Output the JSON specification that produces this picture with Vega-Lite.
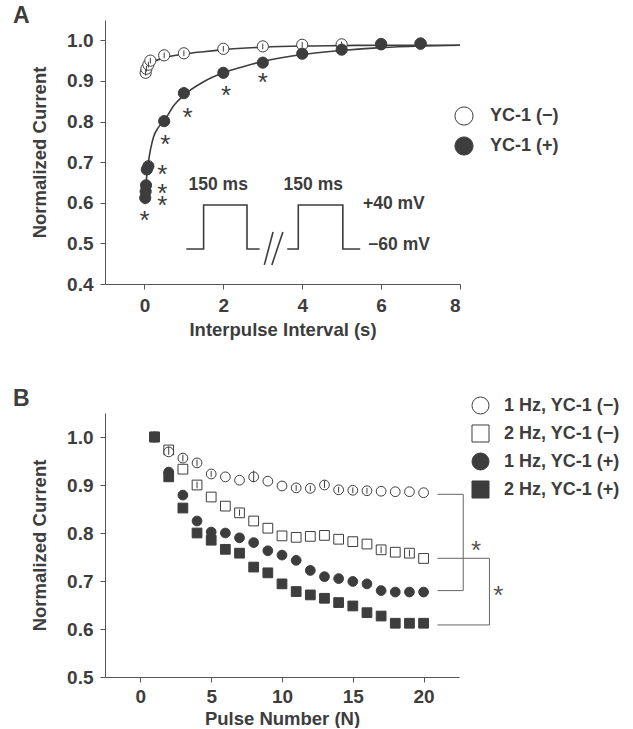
{
  "$schema": "https://vega.github.io/schema/vega-lite/v6.json",
  "background": "white",
  "padding": {"left": 13, "top": 5, "right": 5, "bottom": 0},
  "config": {
    "view": {"stroke": null},
    "font": "Liberation Sans",
    "axis": {
      "labelFont": "Liberation Sans", "labelFontWeight": "bold", "labelFontSize": 19, "labelColor": "#3d3d3d",
      "titleFont": "Liberation Sans", "titleFontWeight": "bold", "titleFontSize": 18.5, "titleColor": "#3d3d3d",
      "domainColor": "#555555", "tickColor": "#555555", "tickSize": 5, "grid": false, "labelPadding": 7
    },
    "title": {"font": "Liberation Sans", "fontWeight": "bold", "fontSize": 23, "color": "#3d3d3d", "anchor": "start", "frame": "group"},
    "legend": {"labelFont": "Liberation Sans", "labelFontWeight": "bold", "labelFontSize": 18, "labelColor": "#3d3d3d", "symbolOpacity": 1, "symbolStrokeColor": "#3d3d3d", "symbolStrokeWidth": 1, "padding": 0}
  },
  "resolve": {
    "scale": {"x": "independent", "y": "independent", "fill": "independent", "shape": "independent"},
    "legend": {"fill": "independent", "shape": "independent"}
  },
  "datasets": {
    "ptsA": [
      {"series": "YC-1 (−)", "x": 0.03, "y": 0.92},
      {"series": "YC-1 (−)", "x": 0.05, "y": 0.93},
      {"series": "YC-1 (−)", "x": 0.1, "y": 0.94},
      {"series": "YC-1 (−)", "x": 0.15, "y": 0.95},
      {"series": "YC-1 (−)", "x": 0.5, "y": 0.963},
      {"series": "YC-1 (−)", "x": 1, "y": 0.968},
      {"series": "YC-1 (−)", "x": 2, "y": 0.979},
      {"series": "YC-1 (−)", "x": 3, "y": 0.985},
      {"series": "YC-1 (−)", "x": 4, "y": 0.989},
      {"series": "YC-1 (−)", "x": 5, "y": 0.99},
      {"series": "YC-1 (−)", "x": 6, "y": 0.991},
      {"series": "YC-1 (−)", "x": 7, "y": 0.992},
      {"series": "YC-1 (+)", "x": 0.02, "y": 0.612},
      {"series": "YC-1 (+)", "x": 0.03, "y": 0.628},
      {"series": "YC-1 (+)", "x": 0.04, "y": 0.643},
      {"series": "YC-1 (+)", "x": 0.06, "y": 0.682},
      {"series": "YC-1 (+)", "x": 0.1, "y": 0.69},
      {"series": "YC-1 (+)", "x": 0.5, "y": 0.801},
      {"series": "YC-1 (+)", "x": 1, "y": 0.87},
      {"series": "YC-1 (+)", "x": 2, "y": 0.92},
      {"series": "YC-1 (+)", "x": 3, "y": 0.945},
      {"series": "YC-1 (+)", "x": 4, "y": 0.967},
      {"series": "YC-1 (+)", "x": 5, "y": 0.977},
      {"series": "YC-1 (+)", "x": 6, "y": 0.99},
      {"series": "YC-1 (+)", "x": 7, "y": 0.992}
    ],
    "errA": [
      {"x": 0.03, "lo": 0.913, "hi": 0.927},
      {"x": 0.05, "lo": 0.923, "hi": 0.937},
      {"x": 0.1, "lo": 0.933, "hi": 0.947},
      {"x": 0.15, "lo": 0.943, "hi": 0.957},
      {"x": 0.5, "lo": 0.956, "hi": 0.97},
      {"x": 1, "lo": 0.961, "hi": 0.975},
      {"x": 2, "lo": 0.972, "hi": 0.986},
      {"x": 3, "lo": 0.978, "hi": 0.992},
      {"x": 4, "lo": 0.982, "hi": 0.996},
      {"x": 5, "lo": 0.983, "hi": 0.997},
      {"x": 0.02, "lo": 0.596, "hi": 0.612}
    ],
    "fitA": [
      {"series": "minus", "x": 0.02, "y": 0.93},
      {"series": "minus", "x": 0.25, "y": 0.948},
      {"series": "minus", "x": 0.5, "y": 0.957},
      {"series": "minus", "x": 1, "y": 0.966},
      {"series": "minus", "x": 1.5, "y": 0.972},
      {"series": "minus", "x": 2, "y": 0.977},
      {"series": "minus", "x": 3, "y": 0.983},
      {"series": "minus", "x": 4, "y": 0.986},
      {"series": "minus", "x": 5, "y": 0.987},
      {"series": "minus", "x": 6, "y": 0.988},
      {"series": "minus", "x": 8, "y": 0.988},
      {"series": "plus", "x": 0.03, "y": 0.62},
      {"series": "plus", "x": 0.06, "y": 0.67},
      {"series": "plus", "x": 0.1, "y": 0.70},
      {"series": "plus", "x": 0.23, "y": 0.762},
      {"series": "plus", "x": 0.35, "y": 0.785},
      {"series": "plus", "x": 0.5, "y": 0.802},
      {"series": "plus", "x": 0.75, "y": 0.84},
      {"series": "plus", "x": 1, "y": 0.865},
      {"series": "plus", "x": 1.5, "y": 0.898},
      {"series": "plus", "x": 2, "y": 0.92},
      {"series": "plus", "x": 2.5, "y": 0.935},
      {"series": "plus", "x": 3, "y": 0.948},
      {"series": "plus", "x": 4, "y": 0.965},
      {"series": "plus", "x": 5, "y": 0.975},
      {"series": "plus", "x": 6, "y": 0.982},
      {"series": "plus", "x": 7, "y": 0.986},
      {"series": "plus", "x": 8, "y": 0.988}
    ],
    "pulseA": [
      {"seg": "p1", "i": 1, "x": 1.06, "y": 0.486},
      {"seg": "p1", "i": 2, "x": 1.5, "y": 0.486},
      {"seg": "p1", "i": 3, "x": 1.5, "y": 0.5945},
      {"seg": "p1", "i": 4, "x": 2.6, "y": 0.5945},
      {"seg": "p1", "i": 5, "x": 2.6, "y": 0.486},
      {"seg": "p1", "i": 6, "x": 2.92, "y": 0.486},
      {"seg": "p2", "i": 1, "x": 3.62, "y": 0.486},
      {"seg": "p2", "i": 2, "x": 3.9, "y": 0.486},
      {"seg": "p2", "i": 3, "x": 3.9, "y": 0.5945},
      {"seg": "p2", "i": 4, "x": 5.03, "y": 0.5945},
      {"seg": "p2", "i": 5, "x": 5.03, "y": 0.486},
      {"seg": "p2", "i": 6, "x": 5.47, "y": 0.486},
      {"seg": "s1", "i": 1, "x": 3.04, "y": 0.447},
      {"seg": "s1", "i": 2, "x": 3.26, "y": 0.528},
      {"seg": "s2", "i": 1, "x": 3.23, "y": 0.447},
      {"seg": "s2", "i": 2, "x": 3.51, "y": 0.528}
    ],
    "starsA": [
      {"x": 0.0, "y": 0.57},
      {"x": 0.45, "y": 0.683},
      {"x": 0.45, "y": 0.636},
      {"x": 0.45, "y": 0.607},
      {"x": 0.53, "y": 0.757},
      {"x": 1.09, "y": 0.823},
      {"x": 2.07, "y": 0.877},
      {"x": 3.0, "y": 0.91}
    ],
    "msA": [
      {"label": "150 ms", "x": 1.87, "y": 0.644},
      {"label": "150 ms", "x": 4.28, "y": 0.644}
    ],
    "mvA": [
      {"label": "+40 mV", "x": 5.54, "y": 0.597},
      {"label": "−60 mV", "x": 5.67, "y": 0.496}
    ],
    "ptsB": [
      {"series": "2 Hz, YC-1 (−)", "n": 1, "y": 1.0},
      {"series": "2 Hz, YC-1 (−)", "n": 2, "y": 0.973},
      {"series": "2 Hz, YC-1 (−)", "n": 3, "y": 0.933},
      {"series": "2 Hz, YC-1 (−)", "n": 4, "y": 0.9},
      {"series": "2 Hz, YC-1 (−)", "n": 5, "y": 0.875},
      {"series": "2 Hz, YC-1 (−)", "n": 6, "y": 0.856},
      {"series": "2 Hz, YC-1 (−)", "n": 7, "y": 0.842},
      {"series": "2 Hz, YC-1 (−)", "n": 8, "y": 0.825},
      {"series": "2 Hz, YC-1 (−)", "n": 9, "y": 0.81},
      {"series": "2 Hz, YC-1 (−)", "n": 10, "y": 0.794},
      {"series": "2 Hz, YC-1 (−)", "n": 11, "y": 0.791},
      {"series": "2 Hz, YC-1 (−)", "n": 12, "y": 0.793},
      {"series": "2 Hz, YC-1 (−)", "n": 13, "y": 0.795},
      {"series": "2 Hz, YC-1 (−)", "n": 14, "y": 0.787},
      {"series": "2 Hz, YC-1 (−)", "n": 15, "y": 0.782},
      {"series": "2 Hz, YC-1 (−)", "n": 16, "y": 0.777},
      {"series": "2 Hz, YC-1 (−)", "n": 17, "y": 0.765},
      {"series": "2 Hz, YC-1 (−)", "n": 18, "y": 0.76},
      {"series": "2 Hz, YC-1 (−)", "n": 19, "y": 0.758},
      {"series": "2 Hz, YC-1 (−)", "n": 20, "y": 0.747},
      {"series": "1 Hz, YC-1 (−)", "n": 1, "y": 1.0},
      {"series": "1 Hz, YC-1 (−)", "n": 2, "y": 0.969},
      {"series": "1 Hz, YC-1 (−)", "n": 3, "y": 0.956},
      {"series": "1 Hz, YC-1 (−)", "n": 4, "y": 0.946},
      {"series": "1 Hz, YC-1 (−)", "n": 5, "y": 0.923},
      {"series": "1 Hz, YC-1 (−)", "n": 6, "y": 0.917},
      {"series": "1 Hz, YC-1 (−)", "n": 7, "y": 0.91},
      {"series": "1 Hz, YC-1 (−)", "n": 8, "y": 0.917},
      {"series": "1 Hz, YC-1 (−)", "n": 9, "y": 0.908},
      {"series": "1 Hz, YC-1 (−)", "n": 10, "y": 0.898},
      {"series": "1 Hz, YC-1 (−)", "n": 11, "y": 0.894},
      {"series": "1 Hz, YC-1 (−)", "n": 12, "y": 0.893},
      {"series": "1 Hz, YC-1 (−)", "n": 13, "y": 0.9},
      {"series": "1 Hz, YC-1 (−)", "n": 14, "y": 0.89},
      {"series": "1 Hz, YC-1 (−)", "n": 15, "y": 0.889},
      {"series": "1 Hz, YC-1 (−)", "n": 16, "y": 0.888},
      {"series": "1 Hz, YC-1 (−)", "n": 17, "y": 0.887},
      {"series": "1 Hz, YC-1 (−)", "n": 18, "y": 0.886},
      {"series": "1 Hz, YC-1 (−)", "n": 19, "y": 0.886},
      {"series": "1 Hz, YC-1 (−)", "n": 20, "y": 0.884},
      {"series": "2 Hz, YC-1 (+)", "n": 1, "y": 1.0},
      {"series": "2 Hz, YC-1 (+)", "n": 2, "y": 0.917},
      {"series": "2 Hz, YC-1 (+)", "n": 3, "y": 0.852},
      {"series": "2 Hz, YC-1 (+)", "n": 4, "y": 0.8},
      {"series": "2 Hz, YC-1 (+)", "n": 5, "y": 0.785},
      {"series": "2 Hz, YC-1 (+)", "n": 6, "y": 0.766},
      {"series": "2 Hz, YC-1 (+)", "n": 7, "y": 0.758},
      {"series": "2 Hz, YC-1 (+)", "n": 8, "y": 0.729},
      {"series": "2 Hz, YC-1 (+)", "n": 9, "y": 0.717},
      {"series": "2 Hz, YC-1 (+)", "n": 10, "y": 0.694},
      {"series": "2 Hz, YC-1 (+)", "n": 11, "y": 0.678},
      {"series": "2 Hz, YC-1 (+)", "n": 12, "y": 0.671},
      {"series": "2 Hz, YC-1 (+)", "n": 13, "y": 0.664},
      {"series": "2 Hz, YC-1 (+)", "n": 14, "y": 0.655},
      {"series": "2 Hz, YC-1 (+)", "n": 15, "y": 0.648},
      {"series": "2 Hz, YC-1 (+)", "n": 16, "y": 0.634},
      {"series": "2 Hz, YC-1 (+)", "n": 17, "y": 0.627},
      {"series": "2 Hz, YC-1 (+)", "n": 18, "y": 0.612},
      {"series": "2 Hz, YC-1 (+)", "n": 19, "y": 0.612},
      {"series": "2 Hz, YC-1 (+)", "n": 20, "y": 0.612},
      {"series": "1 Hz, YC-1 (+)", "n": 1, "y": 1.0},
      {"series": "1 Hz, YC-1 (+)", "n": 2, "y": 0.927},
      {"series": "1 Hz, YC-1 (+)", "n": 3, "y": 0.879},
      {"series": "1 Hz, YC-1 (+)", "n": 4, "y": 0.825},
      {"series": "1 Hz, YC-1 (+)", "n": 5, "y": 0.802},
      {"series": "1 Hz, YC-1 (+)", "n": 6, "y": 0.8},
      {"series": "1 Hz, YC-1 (+)", "n": 7, "y": 0.79},
      {"series": "1 Hz, YC-1 (+)", "n": 8, "y": 0.78},
      {"series": "1 Hz, YC-1 (+)", "n": 9, "y": 0.763},
      {"series": "1 Hz, YC-1 (+)", "n": 10, "y": 0.754},
      {"series": "1 Hz, YC-1 (+)", "n": 11, "y": 0.743},
      {"series": "1 Hz, YC-1 (+)", "n": 12, "y": 0.722},
      {"series": "1 Hz, YC-1 (+)", "n": 13, "y": 0.709},
      {"series": "1 Hz, YC-1 (+)", "n": 14, "y": 0.705},
      {"series": "1 Hz, YC-1 (+)", "n": 15, "y": 0.699},
      {"series": "1 Hz, YC-1 (+)", "n": 16, "y": 0.694},
      {"series": "1 Hz, YC-1 (+)", "n": 17, "y": 0.68},
      {"series": "1 Hz, YC-1 (+)", "n": 18, "y": 0.677},
      {"series": "1 Hz, YC-1 (+)", "n": 19, "y": 0.677},
      {"series": "1 Hz, YC-1 (+)", "n": 20, "y": 0.677}
    ],
    "errB": [
      {"n": 2, "lo": 0.963, "hi": 0.98},
      {"n": 3, "lo": 0.949, "hi": 0.963},
      {"n": 4, "lo": 0.939, "hi": 0.953},
      {"n": 5, "lo": 0.917, "hi": 0.929},
      {"n": 4, "lo": 0.893, "hi": 0.907},
      {"n": 8, "lo": 0.906, "hi": 0.93},
      {"n": 11, "lo": 0.888, "hi": 0.9},
      {"n": 12, "lo": 0.887, "hi": 0.899},
      {"n": 13, "lo": 0.894, "hi": 0.909},
      {"n": 14, "lo": 0.884, "hi": 0.896},
      {"n": 15, "lo": 0.883, "hi": 0.895},
      {"n": 16, "lo": 0.882, "hi": 0.894},
      {"n": 7, "lo": 0.836, "hi": 0.849},
      {"n": 17, "lo": 0.758, "hi": 0.772},
      {"n": 19, "lo": 0.751, "hi": 0.765}
    ],
    "bracketsB": [
      {"x": 20.98, "x2": 22.8, "y": 0.8806, "y2": 0.8806},
      {"x": 22.8, "x2": 22.8, "y": 0.8806, "y2": 0.68},
      {"x": 20.98, "x2": 22.8, "y": 0.68, "y2": 0.68},
      {"x": 20.98, "x2": 24.65, "y": 0.7473, "y2": 0.7473},
      {"x": 24.65, "x2": 24.65, "y": 0.7473, "y2": 0.6084},
      {"x": 20.98, "x2": 24.65, "y": 0.6084, "y2": 0.6084}
    ],
    "starsB": [
      {"x": 23.7, "y": 0.775},
      {"x": 25.28, "y": 0.681}
    ]
  },
  "vconcat": [
    {
      "width": 355,
      "height": 264,
      "title": {"text": "A", "dx": -92, "offset": -8},
      "layer": [
        {
          "data": {"name": "fitA"},
          "mark": {"type": "line", "color": "#3d3d3d", "strokeWidth": 1.6, "interpolate": "monotone"},
          "encoding": {
            "x": {"field": "x", "type": "quantitative", "scale": {"domain": [-1, 8], "nice": false, "zero": false},
                  "axis": {"values": [0, 2, 4, 6, 8], "title": "Interpulse Interval (s)", "titlePadding": 5}},
            "y": {"field": "y", "type": "quantitative", "scale": {"domain": [0.4, 1.05], "nice": false, "zero": false},
                  "axis": {"values": [0.4, 0.5, 0.6, 0.7, 0.8, 0.9, 1.0], "format": ".1f", "title": "Normalized Current", "titlePadding": 17}},
            "detail": {"field": "series"}
          }
        },
        {
          "data": {"name": "pulseA"},
          "mark": {"type": "line", "color": "#3d3d3d", "strokeWidth": 1.6},
          "encoding": {
            "x": {"field": "x", "type": "quantitative"},
            "y": {"field": "y", "type": "quantitative"},
            "detail": {"field": "seg"},
            "order": {"field": "i"}
          }
        },
        {
          "data": {"name": "ptsA"},
          "mark": {"type": "point", "shape": "circle", "filled": true, "stroke": "#3d3d3d", "strokeWidth": 1, "opacity": 1, "size": 125},
          "encoding": {
            "x": {"field": "x", "type": "quantitative"},
            "y": {"field": "y", "type": "quantitative"},
            "fill": {"field": "series", "type": "nominal",
                     "scale": {"domain": ["YC-1 (−)", "YC-1 (+)"], "range": ["#ffffff", "#3d3d3d"]},
                     "legend": {"title": null, "orient": "none", "legendX": 349, "legendY": 86, "symbolType": "circle", "symbolSize": 330, "symbolStrokeColor": "#3d3d3d", "rowPadding": 6, "labelOffset": 16}}
          }
        },
        {
          "data": {"name": "errA"},
          "mark": {"type": "rule", "color": "#3d3d3d", "strokeWidth": 1},
          "encoding": {
            "x": {"field": "x", "type": "quantitative"},
            "y": {"field": "lo", "type": "quantitative"},
            "y2": {"field": "hi"}
          }
        },
        {
          "data": {"name": "starsA"},
          "mark": {"type": "text", "text": "*", "font": "Liberation Sans", "fontSize": 26, "color": "#3d3d3d", "baseline": "middle", "align": "center", "dy": 6},
          "encoding": {
            "x": {"field": "x", "type": "quantitative"},
            "y": {"field": "y", "type": "quantitative"}
          }
        },
        {
          "data": {"name": "msA"},
          "mark": {"type": "text", "font": "Liberation Sans", "fontWeight": "bold", "fontSize": 17.5, "color": "#3d3d3d", "baseline": "middle", "align": "center"},
          "encoding": {
            "x": {"field": "x", "type": "quantitative"},
            "y": {"field": "y", "type": "quantitative"},
            "text": {"field": "label"}
          }
        },
        {
          "data": {"name": "mvA"},
          "mark": {"type": "text", "font": "Liberation Sans", "fontWeight": "bold", "fontSize": 17.5, "color": "#3d3d3d", "baseline": "middle", "align": "left"},
          "encoding": {
            "x": {"field": "x", "type": "quantitative"},
            "y": {"field": "y", "type": "quantitative"},
            "text": {"field": "label"}
          }
        }
      ]
    },
    {
      "width": 354,
      "height": 264,
      "title": {"text": "B", "dx": -92, "offset": -15},
      "layer": [
        {
          "data": {"name": "bracketsB"},
          "mark": {"type": "rule", "color": "#666666", "strokeWidth": 1},
          "encoding": {
            "x": {"field": "x", "type": "quantitative", "scale": {"domain": [-2.5, 22.5], "nice": false, "zero": false},
                  "axis": {"values": [0, 5, 10, 15, 20], "title": "Pulse Number (N)", "titlePadding": 3, "labelPadding": 5}},
            "x2": {"field": "x2"},
            "y": {"field": "y", "type": "quantitative", "scale": {"domain": [0.5, 1.05], "nice": false, "zero": false},
                  "axis": {"values": [0.5, 0.6, 0.7, 0.8, 0.9, 1.0], "format": ".1f", "title": "Normalized Current", "titlePadding": 17}},
            "y2": {"field": "y2"}
          }
        },
        {
          "data": {"name": "ptsB"},
          "mark": {"type": "point", "filled": true, "stroke": "#3d3d3d", "strokeWidth": 1, "opacity": 1, "size": 95},
          "encoding": {
            "x": {"field": "n", "type": "quantitative"},
            "y": {"field": "y", "type": "quantitative"},
            "fill": {"field": "series", "type": "nominal",
                     "scale": {"domain": ["1 Hz, YC-1 (−)", "2 Hz, YC-1 (−)", "1 Hz, YC-1 (+)", "2 Hz, YC-1 (+)"], "range": ["#ffffff", "#ffffff", "#3d3d3d", "#3d3d3d"]},
                     "legend": {"title": null, "orient": "none", "legendX": 366, "legendY": -17, "symbolSize": 290, "symbolStrokeColor": "#3d3d3d", "symbolStrokeWidth": 1, "rowPadding": 5, "labelOffset": 14,
                                "encode": {"symbols": {"update": {"stroke": {"value": "#3d3d3d"}, "strokeWidth": {"value": 1}}}}}},
            "shape": {"field": "series", "type": "nominal",
                      "scale": {"domain": ["1 Hz, YC-1 (−)", "2 Hz, YC-1 (−)", "1 Hz, YC-1 (+)", "2 Hz, YC-1 (+)"], "range": ["circle", "square", "circle", "square"]},
                      "legend": {"title": null, "orient": "none", "legendX": 366, "legendY": -17, "symbolSize": 290, "symbolStrokeColor": "#3d3d3d", "symbolStrokeWidth": 1, "rowPadding": 5, "labelOffset": 14,
                                 "encode": {"symbols": {"update": {"stroke": {"value": "#3d3d3d"}, "strokeWidth": {"value": 1}}}}}}
          }
        },
        {
          "data": {"name": "errB"},
          "mark": {"type": "rule", "color": "#3d3d3d", "strokeWidth": 1},
          "encoding": {
            "x": {"field": "n", "type": "quantitative"},
            "y": {"field": "lo", "type": "quantitative"},
            "y2": {"field": "hi"}
          }
        },
        {
          "data": {"name": "starsB"},
          "mark": {"type": "text", "text": "*", "font": "Liberation Sans", "fontSize": 26, "color": "#555555", "baseline": "middle", "align": "center", "dy": 6},
          "encoding": {
            "x": {"field": "x", "type": "quantitative"},
            "y": {"field": "y", "type": "quantitative"}
          }
        }
      ]
    }
  ],
  "spacing": 49
}
